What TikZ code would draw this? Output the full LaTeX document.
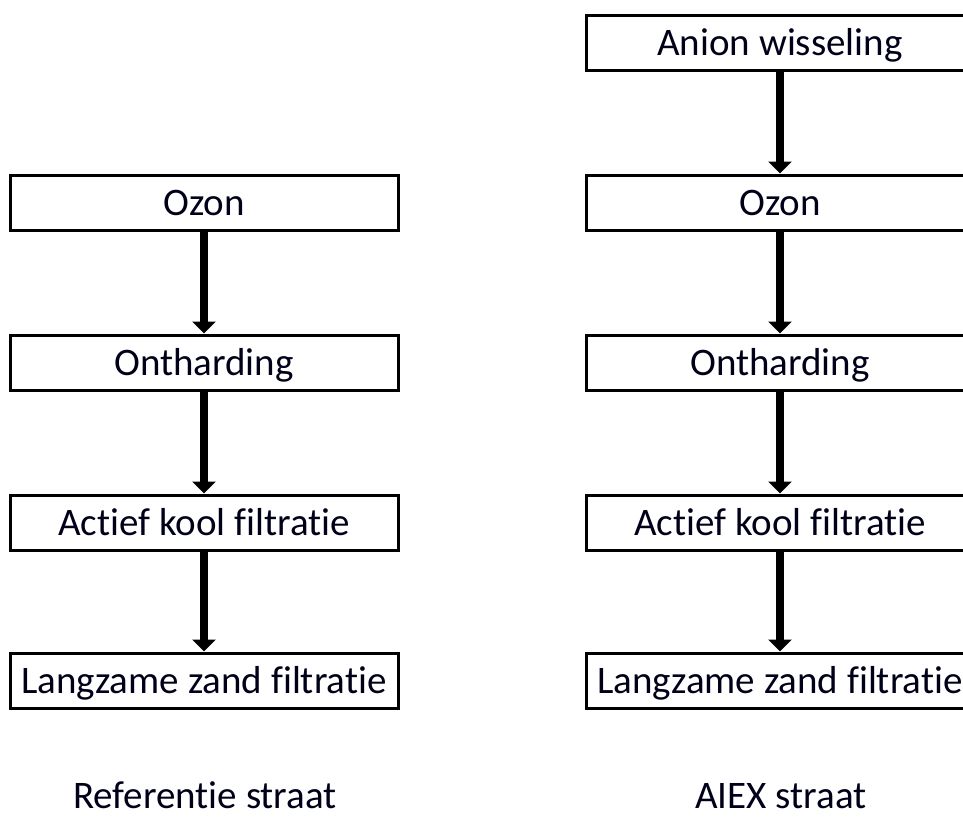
\documentclass[tikz,border=0pt]{standalone}
\usepackage{fontspec}
\setmainfont{Carlito}[Ligatures=NoCommon,RawFeature={-liga;-clig;-dlig}]
\usetikzlibrary{arrows.meta}
\begin{document}
\begin{tikzpicture}[x=1pt,y=-1pt,
  stepbox/.style={draw=black, line width=3pt, minimum width=388pt, minimum height=55pt,
    inner sep=0pt, text height=26pt, text depth=0pt, font=\fontsize{39}{46}\selectfont, text=black!90!blue},
  flowarrow/.style={line width=8pt, -{Triangle[width=23pt,length=12pt]}},
  caption/.style={font=\fontsize{39}{46}\selectfont, anchor=base, text=black!90!blue}]
\useasboundingbox (0,0) rectangle (963,823);
\fill[white] (0,0) rectangle (963,823);
% left column
\node[stepbox] (l1) at (204,202.5) {Ozon};
\node[stepbox] (l2) at (204,362.5) {Ontharding};
\node[stepbox] (l3) at (204,522.5) {Actief kool filtratie};
\node[stepbox] (l4) at (204,680.5) {Langzame zand filtratie};
% right column
\node[stepbox] (r0) at (780,42.5) {Anion wisseling};
\node[stepbox] (r1) at (780,202.5) {Ozon};
\node[stepbox] (r2) at (780,362.5) {Ontharding};
\node[stepbox] (r3) at (780,522.5) {Actief kool filtratie};
\node[stepbox] (r4) at (780,680.5) {Langzame zand filtratie};
% arrows
\draw[flowarrow] (l1.south) -- (l2.north);
\draw[flowarrow] (l2.south) -- (l3.north);
\draw[flowarrow] (l3.south) -- (l4.north);
\draw[flowarrow] (r0.south) -- (r1.north);
\draw[flowarrow] (r1.south) -- (r2.north);
\draw[flowarrow] (r2.south) -- (r3.north);
\draw[flowarrow] (r3.south) -- (r4.north);
% captions
\node[caption] (capl) at (205,808) {Referentie straat};
\node[caption] (capr) at (781,808) {AIEX straat};
\end{tikzpicture}
\end{document}
